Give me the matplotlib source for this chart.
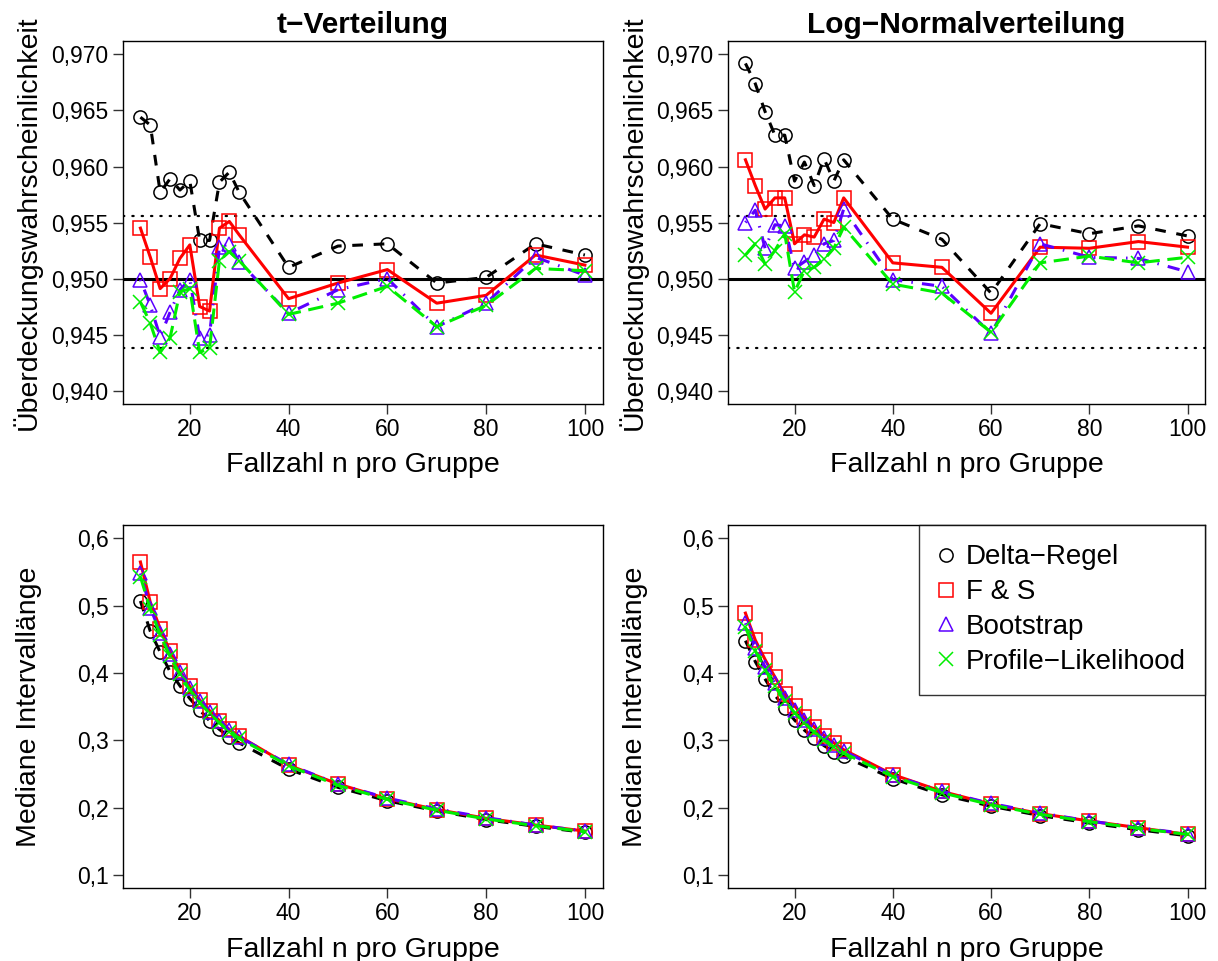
import matplotlib.pyplot as plt
from matplotlib.ticker import FuncFormatter

plt.rcParams['font.family'] = ['Liberation Sans', 'DejaVu Sans']

# Fallzahlen pro Gruppe
n = [10, 12, 14, 16, 18, 20, 22, 24, 26, 28, 30, 40, 50, 60, 70, 80, 90, 100]

# Ueberdeckungswahrscheinlichkeiten, t-Verteilung
cov_t_delta = [0.9644, 0.9637, 0.9577, 0.9589, 0.9579, 0.9587, 0.9534, 0.9534, 0.9586,
               0.9595, 0.9577, 0.9510, 0.9529, 0.9531, 0.9496, 0.9501, 0.9531, 0.9521]
cov_t_fs = [0.9545, 0.9519, 0.9491, 0.9500, 0.9518, 0.9530, 0.9475, 0.9471, 0.9545,
            0.9551, 0.9539, 0.9482, 0.9496, 0.9508, 0.9478, 0.9485, 0.9521, 0.9512]
cov_t_boot = [0.9499, 0.9476, 0.9448, 0.9470, 0.9490, 0.9499, 0.9447, 0.9450, 0.9528,
              0.9531, 0.9515, 0.9469, 0.9490, 0.9500, 0.9457, 0.9478, 0.9519, 0.9503]
cov_t_pl = [0.9479, 0.9460, 0.9434, 0.9447, 0.9488, 0.9491, 0.9434, 0.9438, 0.9516,
            0.9524, 0.9516, 0.9468, 0.9478, 0.9493, 0.9457, 0.9476, 0.9509, 0.9507]

# Ueberdeckungswahrscheinlichkeiten, Log-Normalverteilung
cov_ln_delta = [0.9692, 0.9674, 0.9649, 0.9628, 0.9628, 0.9587, 0.9604, 0.9583, 0.9607,
                0.9587, 0.9606, 0.9553, 0.9535, 0.9487, 0.9549, 0.9540, 0.9547, 0.9538]
cov_ln_fs = [0.9606, 0.9583, 0.9562, 0.9572, 0.9572, 0.9531, 0.9539, 0.9537, 0.9553,
             0.9550, 0.9572, 0.9514, 0.9510, 0.9469, 0.9528, 0.9527, 0.9533, 0.9528]
cov_ln_boot = [0.9550, 0.9561, 0.9527, 0.9548, 0.9547, 0.9509, 0.9515, 0.9521, 0.9531,
               0.9534, 0.9562, 0.9499, 0.9493, 0.9451, 0.9531, 0.9519, 0.9518, 0.9506]
cov_ln_pl = [0.9521, 0.9531, 0.9513, 0.9525, 0.9540, 0.9488, 0.9507, 0.9510, 0.9517,
             0.9527, 0.9546, 0.9495, 0.9487, 0.9452, 0.9514, 0.9520, 0.9514, 0.9519]

# Mediane Intervalllaengen, t-Verteilung
len_t_delta = [0.507, 0.462, 0.431, 0.402, 0.381, 0.362, 0.345, 0.329, 0.316,
               0.305, 0.296, 0.257, 0.230, 0.210, 0.195, 0.182, 0.172, 0.163]
len_t_fs = [0.565, 0.505, 0.466, 0.432, 0.403, 0.380, 0.360, 0.344, 0.329,
            0.316, 0.306, 0.263, 0.235, 0.213, 0.197, 0.184, 0.174, 0.165]
len_t_boot = [0.548, 0.497, 0.460, 0.428, 0.401, 0.378, 0.358, 0.342, 0.328,
              0.315, 0.305, 0.264, 0.235, 0.214, 0.198, 0.185, 0.174, 0.165]
len_t_pl = [0.543, 0.495, 0.457, 0.425, 0.398, 0.375, 0.356, 0.340, 0.326,
            0.313, 0.303, 0.262, 0.233, 0.212, 0.196, 0.183, 0.173, 0.164]

# Mediane Intervalllaengen, Log-Normalverteilung
len_ln_delta = [0.448, 0.417, 0.391, 0.367, 0.348, 0.330, 0.315, 0.303, 0.292,
                0.283, 0.276, 0.243, 0.219, 0.202, 0.188, 0.177, 0.167, 0.158]
len_ln_fs = [0.489, 0.449, 0.420, 0.394, 0.369, 0.351, 0.334, 0.320, 0.307,
             0.296, 0.286, 0.249, 0.224, 0.205, 0.191, 0.180, 0.170, 0.160]
len_ln_boot = [0.474, 0.437, 0.409, 0.385, 0.363, 0.345, 0.330, 0.316, 0.304,
               0.293, 0.284, 0.248, 0.224, 0.206, 0.192, 0.180, 0.170, 0.161]
len_ln_pl = [0.468, 0.433, 0.405, 0.380, 0.359, 0.341, 0.326, 0.312, 0.300,
             0.290, 0.281, 0.246, 0.222, 0.204, 0.190, 0.179, 0.169, 0.160]

methods = ['Delta\u2212Regel', 'F & S', 'Bootstrap', 'Profile\u2212Likelihood']
colors = ['black', '#ff0000', '#5b00ff', '#00ee00']
markers = ['o', 's', '^', 'x']
msizes = [9.5, 10, 10.5, 9.5]
dashes = [(3.5, 3.5), None, (0.5, 3, 4, 3), (5, 2.5)]

nominal = 0.95
band = (0.9438, 0.9556)


def fmt_comma(digits):
    return FuncFormatter(lambda v, pos: ('%.*f' % (digits, v)).replace('.', ','))


def style_axes(ax, ylim, yticks, digits, ylabel):
    ax.set_xlim(6.4, 103.6)
    ax.set_ylim(*ylim)
    ax.set_xticks([20, 40, 60, 80, 100])
    ax.set_yticks(yticks)
    ax.yaxis.set_major_formatter(fmt_comma(digits))
    ax.tick_params(direction='out', length=7.2, width=1.0, labelsize=16.5, pad=3,
                   colors='#333333', labelcolor='black')
    for s in ax.spines.values():
        s.set_linewidth(1.0)
    ax.set_xlabel('Fallzahl n pro Gruppe', fontsize=20.5, labelpad=8)
    ax.set_ylabel(ylabel, fontsize=20.5)
    ax.yaxis.set_label_coords(-0.168, 0.5)


def draw_series(ax, series):
    for y, c, m, ms, d, lab in zip(series, colors, markers, msizes, dashes, methods):
        line, = ax.plot(n, y, color=c, lw=2.2, marker=m, ms=ms, mfc='none', mec=c,
                        mew=1.1, label=lab)
        if d is not None:
            line.set_dashes(d)


fig = plt.figure(figsize=(12.18, 9.61), dpi=100)
ax1 = fig.add_axes([0.1007, 0.5796, 0.3941, 0.3777])
ax2 = fig.add_axes([0.5975, 0.5796, 0.3920, 0.3777])
ax3 = fig.add_axes([0.1007, 0.0757, 0.3941, 0.3780])
ax4 = fig.add_axes([0.5975, 0.0757, 0.3920, 0.3780])

cov_ticks = [0.940, 0.945, 0.950, 0.955, 0.960, 0.965, 0.970]
len_ticks = [0.1, 0.2, 0.3, 0.4, 0.5, 0.6]

for ax, data, title in [(ax1, [cov_t_delta, cov_t_fs, cov_t_boot, cov_t_pl], 't\u2212Verteilung'),
                        (ax2, [cov_ln_delta, cov_ln_fs, cov_ln_boot, cov_ln_pl],
                         'Log\u2212Normalverteilung')]:
    ax.axhline(nominal, color='black', lw=2.2)
    for b in band:
        ax.axhline(b, color='black', lw=1.6, dashes=(0.6, 3.6), dash_capstyle='round')
    draw_series(ax, data)
    style_axes(ax, (0.9388, 0.9712), cov_ticks, 3, '\u00dcberdeckungswahrscheinlichkeit')
    ax.set_title(title, fontsize=21.5, fontweight='bold', pad=6)

for ax, data in [(ax3, [len_t_delta, len_t_fs, len_t_boot, len_t_pl]),
                 (ax4, [len_ln_delta, len_ln_fs, len_ln_boot, len_ln_pl])]:
    draw_series(ax, data)
    style_axes(ax, (0.08, 0.62), len_ticks, 1, 'Mediane Intervall\u00e4nge')

# Legende nur mit Symbolen
handles = [plt.Line2D([], [], ls='none', marker=m, ms=ms, mfc='none', mec=c, mew=1.1)
           for m, ms, c in zip(markers, msizes, colors)]
leg = ax4.legend(handles, methods, loc='upper right', fontsize=20, frameon=True,
                 fancybox=False, borderaxespad=0, handlelength=0.6, handletextpad=0.4,
                 borderpad=0.7, labelspacing=0.32)
leg.get_frame().set_edgecolor('black')
leg.get_frame().set_linewidth(1.0)

plt.savefig('out.png', dpi=100)
plt.close()
